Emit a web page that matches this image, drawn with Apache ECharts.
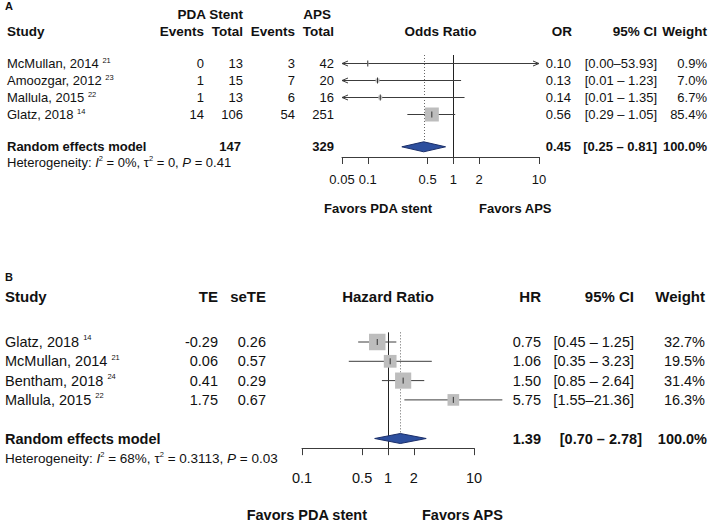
<!DOCTYPE html>
<html><head><meta charset="utf-8">
<script src="https://cdn.jsdelivr.net/npm/echarts@6/dist/echarts.min.js"></script>
<style>html,body{margin:0;padding:0;background:#fff}#chart{width:709px;height:522px}</style>
</head><body><div id="chart"></div>
<script>
// ---------------- Panel A data ----------------
const studiesA = ['McMullan, 2014', 'Amoozgar, 2012', 'Mallula, 2015', 'Glatz, 2018'];
const refsA = ['21', '23', '22', '14'];
const eventsStentA = [0, 1, 1, 14];
const totalStentA = [13, 15, 13, 106];
const eventsApsA = [3, 7, 6, 54];
const totalApsA = [42, 20, 16, 251];
const orA = [0.10, 0.13, 0.14, 0.56];
const lowerA = [0.00, 0.01, 0.01, 0.29];
const upperA = [53.93, 1.23, 1.35, 1.05];
const weightA = [0.9, 7.0, 6.7, 85.4];
const summaryA = [0.45, 0.25, 0.81];      // OR, lower, upper
const summaryTotalsA = [147, 329];
const heterogeneityA = ['0%', '0', '0.41']; // I2, tau2, P
const ticksA = [0.05, 0.1, 0.5, 1, 2, 10];
const tickLabelsA = ['0.05', '0.1', '0.5', '1', '2', '10'];

// ---------------- Panel B data ----------------
const studiesB = ['Glatz, 2018', 'McMullan, 2014', 'Bentham, 2018', 'Mallula, 2015'];
const refsB = ['14', '21', '24', '22'];
const teB = [-0.29, 0.06, 0.41, 1.75];
const seTeB = [0.26, 0.57, 0.29, 0.67];
const hrB = [0.75, 1.06, 1.50, 5.75];
const lowerB = [0.45, 0.35, 0.85, 1.55];
const upperB = [1.25, 3.23, 2.64, 21.36];
const weightB = [32.7, 19.5, 31.4, 16.3];
const summaryB = [1.39, 0.70, 2.78];       // HR, lower, upper
const heterogeneityB = ['68%', '0.3113', '0.03'];
const ticksB = [0.1, 0.5, 1, 2, 10];
const tickLabelsB = ['0.1', '0.5', '1', '2', '10'];
const nullEffect = 1;

// ---------------- rendering ----------------
const FONT = '"Liberation Sans", Arial, Helvetica, sans-serif';
const TXT = '#111';
const LINE = '#3c3c3c';
const L10 = Math.log10;

const PA = { top: 55, step: 17, sumRow: 4.9, left: 342, width: 197, min: L10(0.05), max: L10(10),
             box: 14, arrows: true, dh: 5 };
const PB = { top: 332.35, step: 19.3, sumRow: 5, left: 302, width: 172, min: L10(0.1), max: L10(10),
             box: 16.5, arrows: false, dh: 5 };
const rowY = (P, r) => P.top + (r + 0.5) * P.step;

function fmt2(v) { return v.toFixed(2); }
function ciText(lo, hi) { return '[' + fmt2(lo) + (hi >= 10 ? '\u2013' : ' \u2013 ') + fmt2(hi) + ']'; }
function pct(w) { return w.toFixed(1) + '%'; }

function T(x, y, text, o) {
  o = o || {};
  const align = o.align || 'left';
  const st = {
    text: String(text), x: 0, y: 0, fill: TXT, fontFamily: FONT,
    fontSize: o.size || 13, fontWeight: o.bold ? 'bold' : 'normal',
    align: align, textAlign: align, verticalAlign: 'middle', textVerticalAlign: 'middle'
  };
  if (o.rich) st.rich = o.rich;
  return { type: 'text', x: x, y: y, silent: true, style: st };
}
function supRich(size) {
  return {
    n: { fontSize: size, fontFamily: FONT, fill: TXT, lineHeight: size + 2 },
    s: { fontSize: 7.5, fontFamily: FONT, fill: TXT, lineHeight: 7, verticalAlign: 'top' },
    i: { fontSize: size, fontFamily: FONT, fill: TXT, fontStyle: 'italic', lineHeight: size + 2 }
  };
}
function nameT(x, y, name, ref, size) {
  return T(x, y, '{n|' + name + ' }{s|' + ref + '}', { size: size, rich: supRich(size) });
}
function hetT(x, y, h, size) {
  const t = '{n|Heterogeneity: }{i|I}{s|2}{n| = ' + h[0] + ', \u03c4}{s|2}{n| = ' + h[1] + ', }{i|P}{n| = ' + h[2] + '}';
  return T(x, y, t, { size: size, rich: supRich(size) });
}

const g = [];
// ----- Panel A texts -----
const HA = 13.5, RA = 13;
g.push(T(5, 6, 'A', { bold: true, size: 11 }));
g.push(T(243, 14, 'PDA Stent', { bold: true, size: HA, align: 'right' }));
g.push(T(331, 14, 'APS', { bold: true, size: HA, align: 'right' }));
const hA = 31.5;
g.push(T(7, hA, 'Study', { bold: true, size: HA }));
g.push(T(204, hA, 'Events', { bold: true, size: HA, align: 'right' }));
g.push(T(243, hA, 'Total', { bold: true, size: HA, align: 'right' }));
g.push(T(295, hA, 'Events', { bold: true, size: HA, align: 'right' }));
g.push(T(334, hA, 'Total', { bold: true, size: HA, align: 'right' }));
g.push(T(PA.left + PA.width / 2, hA, 'Odds Ratio', { bold: true, size: HA, align: 'center' }));
g.push(T(572, hA, 'OR', { bold: true, size: HA, align: 'right' }));
g.push(T(657, hA, '95% CI', { bold: true, size: HA, align: 'right' }));
g.push(T(707, hA, 'Weight', { bold: true, size: HA, align: 'right' }));
studiesA.forEach((s, i) => {
  const y = rowY(PA, i);
  g.push(nameT(7, y, s, refsA[i], RA));
  g.push(T(204, y, eventsStentA[i], { size: RA, align: 'right' }));
  g.push(T(243, y, totalStentA[i], { size: RA, align: 'right' }));
  g.push(T(295, y, eventsApsA[i], { size: RA, align: 'right' }));
  g.push(T(334, y, totalApsA[i], { size: RA, align: 'right' }));
  g.push(T(571, y, fmt2(orA[i]), { size: RA, align: 'right' }));
  g.push(T(657, y, ciText(lowerA[i], upperA[i]), { size: RA, align: 'right' }));
  g.push(T(707, y, pct(weightA[i]), { size: RA, align: 'right' }));
});
{
  const y = rowY(PA, PA.sumRow);
  g.push(T(7, y, 'Random effects model', { bold: true, size: RA }));
  g.push(T(241, y, summaryTotalsA[0], { bold: true, size: RA, align: 'right' }));
  g.push(T(334, y, summaryTotalsA[1], { bold: true, size: RA, align: 'right' }));
  g.push(T(571, y, fmt2(summaryA[0]), { bold: true, size: RA, align: 'right' }));
  g.push(T(657, y, ciText(summaryA[1], summaryA[2]), { bold: true, size: RA, align: 'right' }));
  g.push(T(707, y, pct(100), { bold: true, size: RA, align: 'right' }));
  g.push(hetT(7, 162, heterogeneityA, 13));
}
g.push(T(432, 208, 'Favors PDA stent', { bold: true, size: 13, align: 'right' }));
g.push(T(479, 208, 'Favors APS', { bold: true, size: 13 }));

// ----- Panel B texts -----
const HB = 15, RB = 14.5;
g.push(T(5, 277, 'B', { bold: true, size: 11 }));
const hB = 296;
g.push(T(5, hB, 'Study', { bold: true, size: HB }));
g.push(T(218, hB, 'TE', { bold: true, size: HB, align: 'right' }));
g.push(T(266, hB, 'seTE', { bold: true, size: HB, align: 'right' }));
g.push(T(PB.left + PB.width / 2, hB, 'Hazard Ratio', { bold: true, size: HB, align: 'center' }));
g.push(T(541, hB, 'HR', { bold: true, size: HB, align: 'right' }));
g.push(T(634, hB, '95% CI', { bold: true, size: HB, align: 'right' }));
g.push(T(705, hB, 'Weight', { bold: true, size: HB, align: 'right' }));
studiesB.forEach((s, i) => {
  const y = rowY(PB, i);
  g.push(nameT(5, y, s, refsB[i], RB));
  g.push(T(218, y, fmt2(teB[i]), { size: RB, align: 'right' }));
  g.push(T(266, y, fmt2(seTeB[i]), { size: RB, align: 'right' }));
  g.push(T(541, y, fmt2(hrB[i]), { size: RB, align: 'right' }));
  g.push(T(634, y, ciText(lowerB[i], upperB[i]), { size: RB, align: 'right' }));
  g.push(T(705, y, pct(weightB[i]), { size: RB, align: 'right' }));
});
{
  const y = rowY(PB, PB.sumRow);
  g.push(T(5, y, 'Random effects model', { bold: true, size: RB }));
  g.push(T(541, y, fmt2(summaryB[0]), { bold: true, size: RB, align: 'right' }));
  g.push(T(642, y, ciText(summaryB[1], summaryB[2]), { bold: true, size: RB, align: 'right' }));
  g.push(T(707, y, pct(100), { bold: true, size: RB, align: 'right' }));
  g.push(hetT(5, 458, heterogeneityB, 13.5));
}
g.push(T(367, 515, 'Favors PDA stent', { bold: true, size: 14.5, align: 'right' }));
g.push(T(422, 515, 'Favors APS', { bold: true, size: 14.5 }));

// ----- custom renderers -----
function studyRenderer(P, maxW) {
  return function (params, api) {
    const est = api.value(0), row = api.value(1), lo = api.value(2), hi = api.value(3), w = api.value(4);
    const y = api.coord([0, row])[1];
    let lx = lo > 0 ? L10(lo) : -Infinity, hx = L10(hi);
    let aL = false, aR = false;
    if (P.arrows) {
      if (lx < P.min) { lx = P.min; aL = true; }
      if (hx > P.max) { hx = P.max; aR = true; }
    }
    const x0 = api.coord([lx, row])[0], x1 = api.coord([hx, row])[0], xe = api.coord([est, row])[0];
    const side = P.box * Math.sqrt(w / maxW);
    const ch = [{ type: 'line', shape: { x1: x0, y1: y, x2: x1, y2: y }, style: { stroke: LINE, lineWidth: 1 } }];
    if (aL) ch.push({ type: 'polyline', shape: { points: [[x0 + 6, y - 2.5], [x0, y], [x0 + 6, y + 2.5]] }, style: { stroke: LINE, fill: null, lineWidth: 1 } });
    if (aR) ch.push({ type: 'polyline', shape: { points: [[x1 - 6, y - 2.5], [x1, y], [x1 - 6, y + 2.5]] }, style: { stroke: LINE, fill: null, lineWidth: 1 } });
    ch.push({ type: 'rect', shape: { x: xe - side / 2, y: y - side / 2, width: side, height: side }, style: { fill: '#bdbdbd' } });
    ch.push({ type: 'line', shape: { x1: xe, y1: y - 3, x2: xe, y2: y + 3 }, style: { stroke: '#333', lineWidth: 1 } });
    return { type: 'group', children: ch };
  };
}
function diamondRenderer(P) {
  return function (params, api) {
    const est = api.value(0), row = api.value(1), lo = api.value(2), hi = api.value(3);
    const y = api.coord([0, row])[1];
    const xl = api.coord([L10(lo), row])[0], xh = api.coord([L10(hi), row])[0], xe = api.coord([est, row])[0];
    return { type: 'polygon', shape: { points: [[xl, y], [xe, y - P.dh], [xh, y], [xe, y + P.dh]] },
             style: { fill: '#2d4f9e', stroke: '#1b2f6a', lineWidth: 1 } };
  };
}
function refRenderer(P) {
  return function (params, api) {
    const x = api.coord([api.value(0), 0])[0];
    const dotted = api.value(1) === 1;
    const yTop = api.coord([0, -0.5])[1];
    const yBot = dotted ? api.coord([0, P.sumRow])[1] - P.dh : api.coord([0, 5.5])[1];
    return { type: 'line', shape: { x1: Math.round(x) + 0.5, y1: yTop, x2: Math.round(x) + 0.5, y2: yBot },
             style: { stroke: dotted ? '#666' : '#222', lineWidth: 1, lineDash: dotted ? [1, 2] : null } };
  };
}
function xAxisFor(idx, P, ticks, labels, fs, margin) {
  const vals = ticks.map(L10);
  return {
    gridIndex: idx, type: 'value', min: P.min, max: P.max, position: 'bottom',
    axisLine: { show: true, onZero: false, lineStyle: { color: LINE, width: 1 } },
    axisTick: { show: true, length: 7, customValues: vals, lineStyle: { color: LINE, width: 1 } },
    axisLabel: { show: true, customValues: vals, margin: margin, fontSize: fs, color: TXT, fontFamily: FONT,
      formatter: function (v) { const k = vals.findIndex(t => Math.abs(t - v) < 1e-6); return k >= 0 ? labels[k] : ''; } },
    splitLine: { show: false }
  };
}
function yAxisFor(idx) {
  return { gridIndex: idx, type: 'value', inverse: true, min: -0.5, max: 5.5, show: false };
}

const dataA = orA.map((v, i) => [L10(v), i, lowerA[i], upperA[i], weightA[i]]);
const dataB = hrB.map((v, i) => [L10(v), i, lowerB[i], upperB[i], weightB[i]]);

const option = {
  animation: false,
  backgroundColor: '#fff',
  grid: [
    { left: PA.left, top: PA.top, width: PA.width, height: PA.step * 6 },
    { left: PB.left, top: PB.top, width: PB.width, height: PB.step * 6 }
  ],
  xAxis: [xAxisFor(0, PA, ticksA, tickLabelsA, 13, 16), xAxisFor(1, PB, ticksB, tickLabelsB, 14.5, 22)],
  yAxis: [yAxisFor(0), yAxisFor(1)],
  graphic: { elements: g },
  series: [
    { type: 'custom', xAxisIndex: 0, yAxisIndex: 0, clip: false, z: 1, renderItem: refRenderer(PA),
      data: [[L10(nullEffect), 0], [L10(summaryA[0]), 1]] },
    { type: 'custom', xAxisIndex: 0, yAxisIndex: 0, clip: false, z: 2, renderItem: studyRenderer(PA, Math.max(...weightA)), data: dataA },
    { type: 'custom', xAxisIndex: 0, yAxisIndex: 0, clip: false, z: 3, renderItem: diamondRenderer(PA),
      data: [[L10(summaryA[0]), PA.sumRow, summaryA[1], summaryA[2]]] },
    { type: 'custom', xAxisIndex: 1, yAxisIndex: 1, clip: false, z: 1, renderItem: refRenderer(PB),
      data: [[L10(nullEffect), 0], [L10(summaryB[0]), 1]] },
    { type: 'custom', xAxisIndex: 1, yAxisIndex: 1, clip: false, z: 2, renderItem: studyRenderer(PB, Math.max(...weightB)), data: dataB },
    { type: 'custom', xAxisIndex: 1, yAxisIndex: 1, clip: false, z: 3, renderItem: diamondRenderer(PB),
      data: [[L10(summaryB[0]), PB.sumRow, summaryB[1], summaryB[2]]] }
  ]
};
const chart = echarts.init(document.getElementById('chart'), null, { renderer: 'svg' });
chart.setOption(option);
</script></body></html>
